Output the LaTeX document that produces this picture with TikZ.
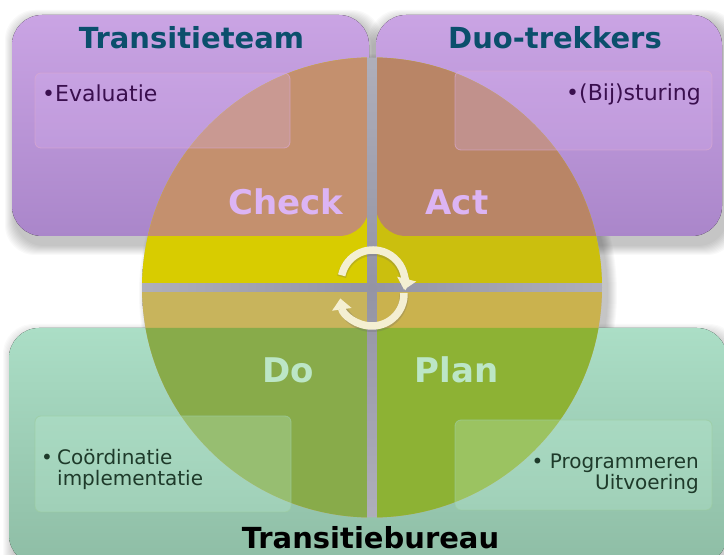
\documentclass[tikz,border=0pt]{standalone}
\usepackage{fontspec}
\setmainfont{DejaVu Sans}
\usetikzlibrary{arrows.meta}
\definecolor{purpT}{HTML}{CAA4E4}
\definecolor{purpB}{HTML}{AA86CA}
\definecolor{greenT}{HTML}{ABDEC6}
\definecolor{greenB}{HTML}{8EBDA5}
\definecolor{yelL}{HTML}{D8CC00}
\definecolor{yelR}{HTML}{CBBF0E}
\definecolor{brnL}{HTML}{C4906E}
\definecolor{brnR}{HTML}{B98566}
\definecolor{oliL}{HTML}{C8B45C}
\definecolor{oliR}{HTML}{CAB24E}
\definecolor{grnL}{HTML}{88AB4A}
\definecolor{grnR}{HTML}{8DB234}
\definecolor{titleC}{HTML}{0B4F6C}
\definecolor{evalC}{HTML}{3A0F4E}
\definecolor{greenTxt}{HTML}{1E3A2A}
\definecolor{checkC}{HTML}{DCB4F4}
\definecolor{doC}{HTML}{BCE6C6}
\definecolor{innerP}{HTML}{D8B2F0}
\definecolor{innerPe}{HTML}{D9A8D0}
\definecolor{innerG}{HTML}{C0F0D8}
\definecolor{innerGe}{HTML}{9CCCA0}
\definecolor{arrowC}{HTML}{F4EFD2}
\definecolor{gapC}{HTML}{9494A4}
\tikzset{
  title/.style={inner sep=0pt, anchor=base, font=\bfseries\fontsize{29}{34}\selectfont, text=titleC},
  phase/.style={inner sep=0pt, anchor=base, font=\bfseries\fontsize{34}{40}\selectfont},
  body/.style={inner sep=0pt, font=\fontsize{20}{24}\selectfont},
  innerbox/.style={rounded corners=6pt, fill opacity=0.28, draw opacity=0.7, line width=0.8pt},
  cyc/.style={draw=arrowC, line width=7.5pt, -{Triangle[length=11pt,width=19pt]}},
  cycshadow/.style={draw=black!60, line width=9pt, opacity=0.25}
}
\begin{document}
\begin{tikzpicture}[x=1pt,y=1pt]
\useasboundingbox (0,0) rectangle (724,555);
\fill[white] (0,0) rectangle (724,555);
% soft shadows
\foreach \i in {0,...,9}{
  \fill[black, fill opacity=0.022, rounded corners=30pt] ({14-\i},{309-\i}) rectangle ({373+\i},{536+\i});
  \fill[black, fill opacity=0.022, rounded corners=30pt] ({378-\i},{309-\i}) rectangle ({728+\i},{536+\i});
  \fill[black, fill opacity=0.02, rounded corners=30pt] ({12-\i},{-20-\i}) rectangle ({730+\i},{222+\i});
  \fill[black, fill opacity=0.025] (378,262) circle[radius={230+\i}];
}
% big boxes
\fill[top color=purpT, bottom color=purpB, rounded corners=30pt] (12,319) rectangle (369,540);
\fill[top color=purpT, bottom color=purpB, rounded corners=30pt] (376,319) rectangle (722,540);
\fill[top color=greenT, bottom color=greenB, rounded corners=30pt] (9,-10) rectangle (727,227);
% circle
\coordinate (C) at (372,267.5);
\begin{scope}
  \clip (C) circle[radius=230];
  \shade[inner color=gapC, outer color=gapC!75!white] (C) circle[radius=230];
  \fill[yelL] (130,272) rectangle (367,520);
  \fill[yelR] (377,272) rectangle (610,520);
  \fill[oliL] (130,263) rectangle (367,20);
  \fill[oliR] (377,263) rectangle (610,20);
  \begin{scope}
    \clip[rounded corners=30pt] (12,319) rectangle (369,540) (376,319) rectangle (722,540);
    \fill[brnL] (130,272) rectangle (367,520);
    \fill[brnR] (377,272) rectangle (610,520);
  \end{scope}
  \begin{scope}
    \clip[rounded corners=30pt] (9,-10) rectangle (727,227);
    \fill[grnL] (130,263) rectangle (367,20);
    \fill[grnR] (377,263) rectangle (610,20);
  \end{scope}
\end{scope}
% inner boxes
\filldraw[innerbox, fill=innerP, draw=innerPe] (35,407) rectangle (290,482);
\filldraw[innerbox, fill=innerP, draw=innerPe] (455,405) rectangle (712,484);
\filldraw[innerbox, fill=innerG, draw=innerGe] (35,43) rectangle (291,139);
\filldraw[innerbox, fill=innerG, draw=innerGe] (455,45) rectangle (712,135);
% cycle arrows
\coordinate (ctop) at (373,273);
\coordinate (cbot) at (372,261);
\draw[cycshadow] ([yshift=-1.5pt]ctop) ++(168:32pt) arc[start angle=168, end angle=-2, radius=32pt];
\draw[cyc] (ctop) ++(168:32pt) arc[start angle=168, end angle=-14, radius=32pt];
\draw[cycshadow] ([yshift=-1.5pt]cbot) ++(2:32pt) arc[start angle=2, end angle=-160, radius=32pt];
\draw[cyc] (cbot) ++(2:32pt) arc[start angle=2, end angle=-172, radius=32pt];
% titles
\node[title] (tteam) at (191.5,506) {Transitieteam};
\node[title] (duo) at (555,506) {Duo-trekkers};
\node[title, text=black] (tbur) at (370.5,6) {Transitiebureau};
% phases
\node[phase, text=checkC] (check) at (286,340) {Check};
\node[phase, text=checkC] (act) at (457,340) {Act};
\node[phase, text=doC] (do) at (288,172) {Do};
\node[phase, text=doC] (plan) at (456.5,172) {Plan};
% bullet texts
\node[body, text=evalC, anchor=base west, font=\fontsize{22}{24}\selectfont] (eval) at (42,453) {\textbullet Evaluatie};
\node[body, text=evalC, anchor=base east, font=\fontsize{22}{24}\selectfont] (bij) at (701,454) {\textbullet(Bij)sturing};
\node[body, text=greenTxt, anchor=base west] (cb) at (41,90) {\textbullet};
\node[body, text=greenTxt, anchor=base west] (co1) at (57,90) {Coördinatie};
\node[body, text=greenTxt, anchor=base west] (co2) at (57,69) {implementatie};
\node[body, text=greenTxt, anchor=base east] (pr1) at (699,86) {\textbullet\ Programmeren};
\node[body, text=greenTxt, anchor=base east] (pr2) at (699,65) {Uitvoering};
\end{tikzpicture}
\end{document}
